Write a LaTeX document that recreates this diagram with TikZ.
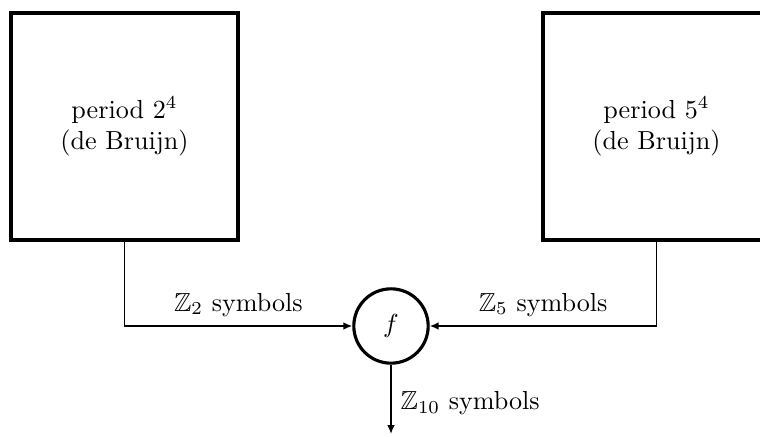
\documentclass[tikz,border=0pt]{standalone}
\usepackage{amssymb}
\usetikzlibrary{arrows.meta}
\begin{document}
\begin{tikzpicture}[x=0.3832pt, y=-0.3832pt,
  block/.style={draw, line width=1.2pt, minimum width=87pt, minimum height=87pt,
    align=center, inner sep=0pt},
  fnode/.style={draw, circle, line width=1.2pt, minimum size=28.5pt, inner sep=0pt},
  flow/.style={line width=0.7pt, -{Latex[length=3.4pt,width=3pt]}}]
\useasboundingbox (0,0) rectangle (760,437);
\clip (0,0) rectangle (760,437);
% sequence generators
\node[block] (A) at (124.5,126.5) {period $2^4$\\(de Bruijn)};
\node[block] (B) at (656.5,126.5) {period $5^4$\\(de Bruijn)};
% combining function
\node[fnode] (f) at (391,326) {$f$};
\coordinate (out) at (391,434);
% connections
\draw[flow] (A.south) |- node[above, pos=0.75] {$\mathbb{Z}_2$ symbols} (f.west);
\draw[flow] (B.south) |- node[above, pos=0.75] {$\mathbb{Z}_5$ symbols} (f.east);
\draw[flow] (f.south) -- node[right, pos=0.55] {$\mathbb{Z}_{10}$ symbols} (out);
\end{tikzpicture}
\end{document}
